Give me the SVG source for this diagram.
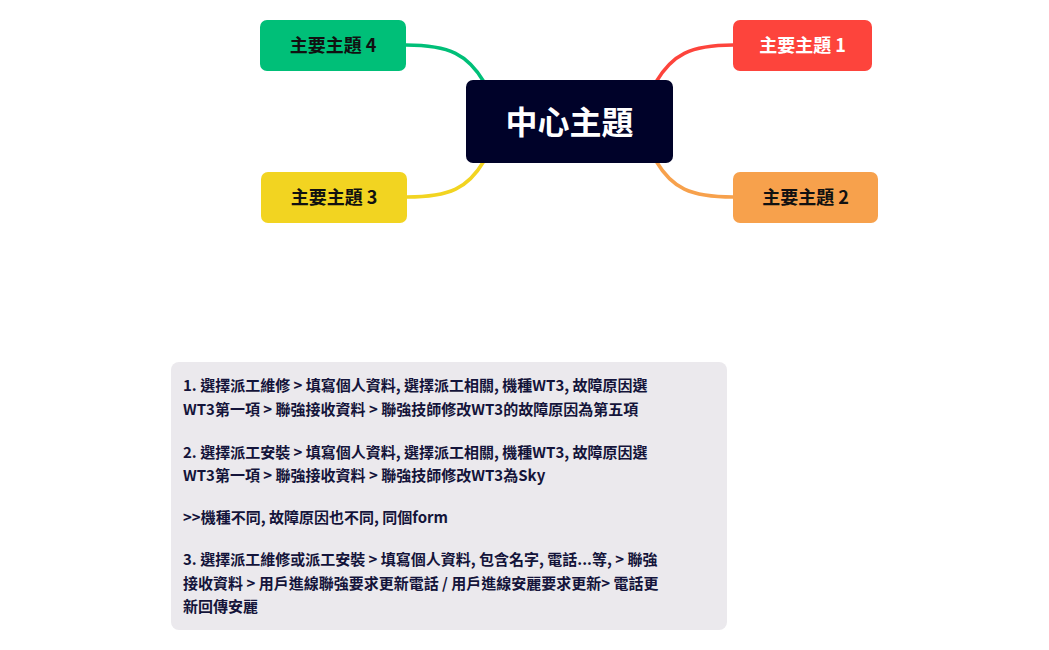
<svg xmlns="http://www.w3.org/2000/svg" width="1049" height="650" viewBox="0 0 1049 650">
<style>
text{font-family:"Noto Sans CJK TC","Noto Sans",sans-serif;font-weight:bold}
.t{font-size:18px;text-anchor:middle}
.n{font-size:15px;fill:#14143a;font-weight:600}
.c{fill:none;stroke-width:3.5}
</style>
<rect width="1049" height="650" fill="#fff"/>
<g id="connectors">
<path class="c" stroke="#fd443c" d="M656,82 C672,55 690,45 733,45"/>
<path class="c" stroke="#f7a14c" d="M656,161 C672,188 690,197 733,197"/>
<path class="c" stroke="#f2d421" d="M484,161 C468,188 450,197 407,197"/>
<path class="c" stroke="#00bf78" d="M484,82 C468,55 450,45 406,45"/>
</g>
<g id="center"><rect x="466" y="80" width="207" height="83" rx="7" fill="#000229"/><text x="569.5" y="134" class="t" style="font-size:32px" fill="#fff">中心主題</text></g>
<g id="t1"><rect x="733" y="20" width="139" height="51" rx="7" fill="#fd443c"/><text x="802.5" y="52" class="t" fill="#fff">主要主題 1</text></g>
<g id="t2"><rect x="733" y="172" width="145" height="51" rx="7" fill="#f7a14c"/><text x="805.5" y="204" class="t" fill="#111">主要主題 2</text></g>
<g id="t3"><rect x="261" y="172" width="146" height="51" rx="7" fill="#f2d421"/><text x="334" y="204" class="t" fill="#111">主要主題 3</text></g>
<g id="t4"><rect x="260" y="20" width="146" height="51" rx="7" fill="#00bf78"/><text x="333" y="52" class="t" fill="#111">主要主題 4</text></g>
<g id="note">
<rect x="171" y="362" width="556" height="268" rx="8" fill="#ebe9ed"/>
<text class="n" x="183" y="391">1. 選擇派工維修 &gt; 填寫個人資料, 選擇派工相關, 機種WT3, 故障原因選</text>
<text class="n" x="183" y="415">WT3第一項 &gt; 聯強接收資料 &gt; 聯強技師修改WT3的故障原因為第五項</text>
<text class="n" x="183" y="458">2. 選擇派工安裝 &gt; 填寫個人資料, 選擇派工相關, 機種WT3, 故障原因選</text>
<text class="n" x="183" y="481">WT3第一項 &gt; 聯強接收資料 &gt; 聯強技師修改WT3為Sky</text>
<text class="n" x="183" y="523">&gt;&gt;機種不同, 故障原因也不同, 同個form</text>
<text class="n" x="183" y="565">3. 選擇派工維修或派工安裝 &gt; 填寫個人資料, 包含名字, 電話...等, &gt; 聯強</text>
<text class="n" x="183" y="589">接收資料 &gt; 用戶進線聯強要求更新電話 / 用戶進線安麗要求更新&gt; 電話更</text>
<text class="n" x="183" y="612">新回傳安麗</text>
</g>
</svg>
